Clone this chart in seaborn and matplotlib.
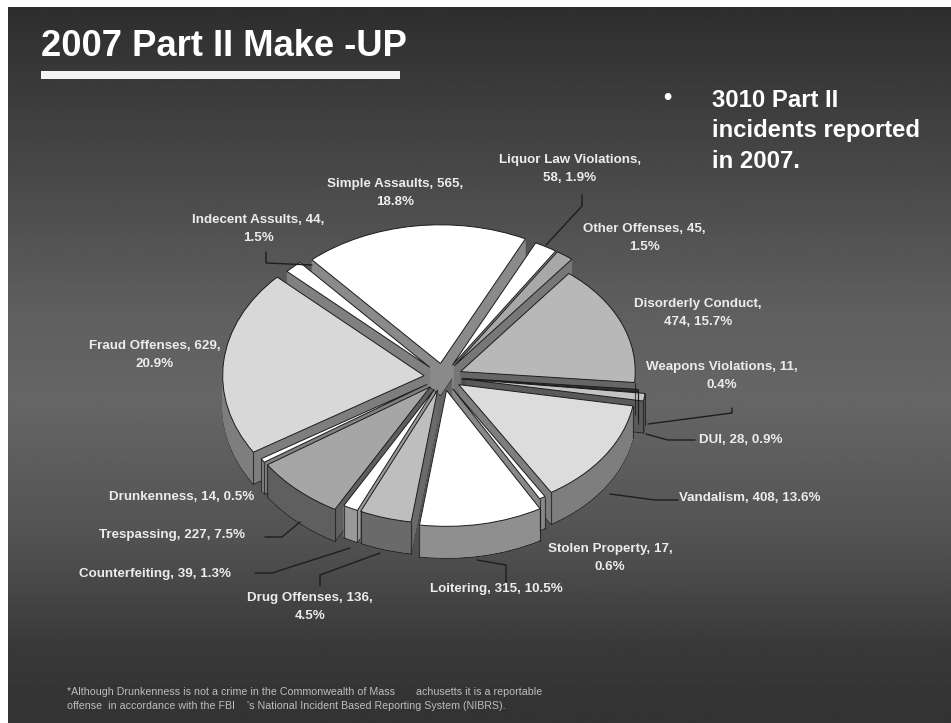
import numpy as np
import pandas as pd
import matplotlib
matplotlib.use("Agg")
import matplotlib.pyplot as plt
import seaborn as sns

# Part II incident counts, clockwise from the Liquor Law slice
categories = ["Liquor Law Violations", "Other Offenses", "Disorderly Conduct",
              "Weapons Violations", "DUI", "Vandalism", "Stolen Property",
              "Loitering", "Drug Offenses", "Counterfeiting", "Trespassing",
              "Drunkenness", "Fraud Offenses", "Indecent Assults", "Simple Assaults"]
counts = [58, 45, 474, 11, 28, 408, 17, 315, 136, 39, 227, 14, 629, 44, 565]
shares = ["1.9%", "1.5%", "15.7%", "0.4%", "0.9%", "13.6%", "0.6%", "10.5%",
          "4.5%", "1.3%", "7.5%", "0.5%", "20.9%", "1.5%", "18.8%"]

top_colors = ["#ffffff", "#a8a8a8", "#b8b8b8", "#333333", "#c4c4c4", "#dcdcdc",
              "#ffffff", "#ffffff", "#bebebe", "#ffffff", "#a6a6a6", "#ffffff",
              "#d8d8d8", "#ffffff", "#ffffff"]
wall_colors = ["#8a8a8a", "#777777", "#666666", "#222222", "#5a5a5a", "#7e7e7e",
               "#888888", "#8f8f8f", "#6a6a6a", "#999999", "#5f5f5f", "#808080",
               "#7e7e7e", "#808080", "#8a8a8a"]
# Radius of each slice, relative to the pie, for the perspective of the 3-D view
radius_scale = [1.0, 1.0, 0.92, 0.93, 0.97, 0.93, 0.93, 1.0, 0.98, 0.98,
                1.03, 1.03, 1.06, 1.03, 1.02]

df = pd.DataFrame({"category": categories, "count": counts, "share": shares})

# Label layout: centre x, centre y, line break after the name/count, in pixels
label_layout = {
    "Liquor Law Violations": (570, 169, "{n},\n{c}, {s}"),
    "Other Offenses": (644, 238, "{n}, {c},\n{s}"),
    "Disorderly Conduct": (698, 313, "{n},\n{c}, {s}"),
    "Weapons Violations": (722, 376, "{n}, {c},\n{s}"),
    "DUI": (741, 440, "{n}, {c}, {s}"),
    "Vandalism": (750, 498, "{n}, {c}, {s}"),
    "Stolen Property": (610, 558, "{n}, {c},\n{s}"),
    "Loitering": (496, 589, "{n}, {c}, {s}"),
    "Drug Offenses": (310, 607, "{n}, {c},\n{s}"),
    "Counterfeiting": (155, 574, "{n}, {c}, {s}"),
    "Trespassing": (172, 535, "{n}, {c}, {s}"),
    "Drunkenness": (182, 497, "{n}, {c}, {s}"),
    "Fraud Offenses": (155, 355, "{n}, {c},\n{s}"),
    "Indecent Assults": (258, 229, "{n}, {c},\n{s}"),
    "Simple Assaults": (395, 193, "{n}, {c},\n{s}"),
}
leaders = [
    [(266, 252), (266, 263), (312, 265)],
    [(582, 195), (582, 206), (546, 245)],
    [(732, 408), (732, 413), (648, 424)],
    [(646, 434), (668, 440), (695, 440)],
    [(610, 494), (655, 500), (678, 500)],
    [(477, 560), (506, 565), (506, 582)],
    [(380, 553), (320, 575), (320, 586)],
    [(350, 548), (272, 573), (255, 573)],
    [(300, 522), (282, 537), (265, 537)],
]

W, H = 951, 723
CX, CY = 443, 377
RX, RY = 190, 136
DEPTH = 32
EXPLODE = 0.1
START = 64

sns.set_theme(style="white")
plt.rcParams["font.family"] = ["Liberation Sans", "DejaVu Sans"]
fig = plt.figure(figsize=(W / 100, H / 100), dpi=100, facecolor="white")

# Slide backdrop: vertical charcoal gradient inside a thin white margin
bg = fig.add_axes([8 / W, 0, 1 - 8 / W, 1 - 7 / H])
ys = np.linspace(0, 1, 256)
shade = np.interp(ys, [0, 0.2, 0.42, 0.55, 0.75, 0.9, 1.0],
                  [0.18, 0.27, 0.37, 0.40, 0.32, 0.22, 0.2])
bg.imshow(shade[:, None], cmap="gray", vmin=0, vmax=1, aspect="auto")
bg.axis("off")

# Pie axes: one data unit equals the ellipse radius on each axis
pie_ax = fig.add_axes([0, 0, 1, 1], facecolor="none")
explode = [EXPLODE] * len(df)

for k in range(DEPTH, 0, -1):
    wedges, _ = pie_ax.pie(df["count"], explode=explode, startangle=START,
                           counterclock=False, center=(0, -k / RY),
                           colors=sns.color_palette(wall_colors),
                           wedgeprops={"linewidth": 0.6}, normalize=True,
                           frame=False)
    for w, c, rs in zip(wedges, wall_colors, radius_scale):
        w.set_radius(rs)
        w.set_edgecolor("#1c1c1c" if k == DEPTH else c)
    # Dark vertical seams at the front corners of each wall
    for w in wedges:
        for th in (w.theta1, w.theta2):
            if np.sin(np.radians(th)) < 0.1:
                x = w.center[0] + w.r * np.cos(np.radians(th))
                y = w.center[1] + w.r * np.sin(np.radians(th))
                pie_ax.plot([x, x], [y, y + 1 / RY], color="#1c1c1c", lw=0.8,
                            solid_capstyle="butt")

wedges, _ = pie_ax.pie(df["count"], explode=explode, startangle=START,
                       counterclock=False, colors=sns.color_palette(top_colors),
                       wedgeprops={"edgecolor": "#1c1c1c", "linewidth": 0.7},
                       normalize=True, frame=False)
for w, rs in zip(wedges, radius_scale):
    w.set_radius(rs)

pie_ax.set_aspect("auto")
pie_ax.set_xlim((0 - CX) / RX, (W - CX) / RX)
pie_ax.set_ylim((CY - H) / RY, CY / RY)
pie_ax.axis("off")

# Overlay in pixel coordinates for the slide text and leader lines
top = fig.add_axes([0, 0, 1, 1], facecolor="none")
top.set_xlim(0, W)
top.set_ylim(H, 0)
top.axis("off")

for path in leaders:
    xs, yy = zip(*path)
    top.plot(xs, yy, color="#1e1e1e", lw=1.0)

for _, row in df.iterrows():
    x, y, fmt = label_layout[row["category"]]
    top.text(x, y, fmt.format(n=row["category"], c=row["count"], s=row["share"]),
             ha="center", va="center", color="#ececec", fontsize=9.6,
             fontweight="bold", linespacing=1.65)

top.text(41, 47, "2007 Part II Make -UP", color="white", fontsize=26.2,
         fontweight="bold", va="center", ha="left")
top.add_patch(plt.Rectangle((41, 71), 359, 8, color="#f4f4f4", lw=0))

top.text(663, 97, "•", color="white", fontsize=17, fontweight="bold",
         ha="left", va="center")
top.text(712, 131, "3010 Part II\nincidents reported\nin 2007.", color="white",
         fontsize=17.2, fontweight="bold", ha="left", va="center", linespacing=1.43)

top.text(67, 699, "*Although Drunkenness is not a crime in the Commonwealth of Mass"
         "       achusetts it is a reportable\noffense  in accordance with the FBI"
         "    's National Incident Based Reporting System (NIBRS).",
         color="#bdbdbd", fontsize=7.7, ha="left", va="center", linespacing=1.39)

fig.savefig("out.png", dpi=100, facecolor="white")
